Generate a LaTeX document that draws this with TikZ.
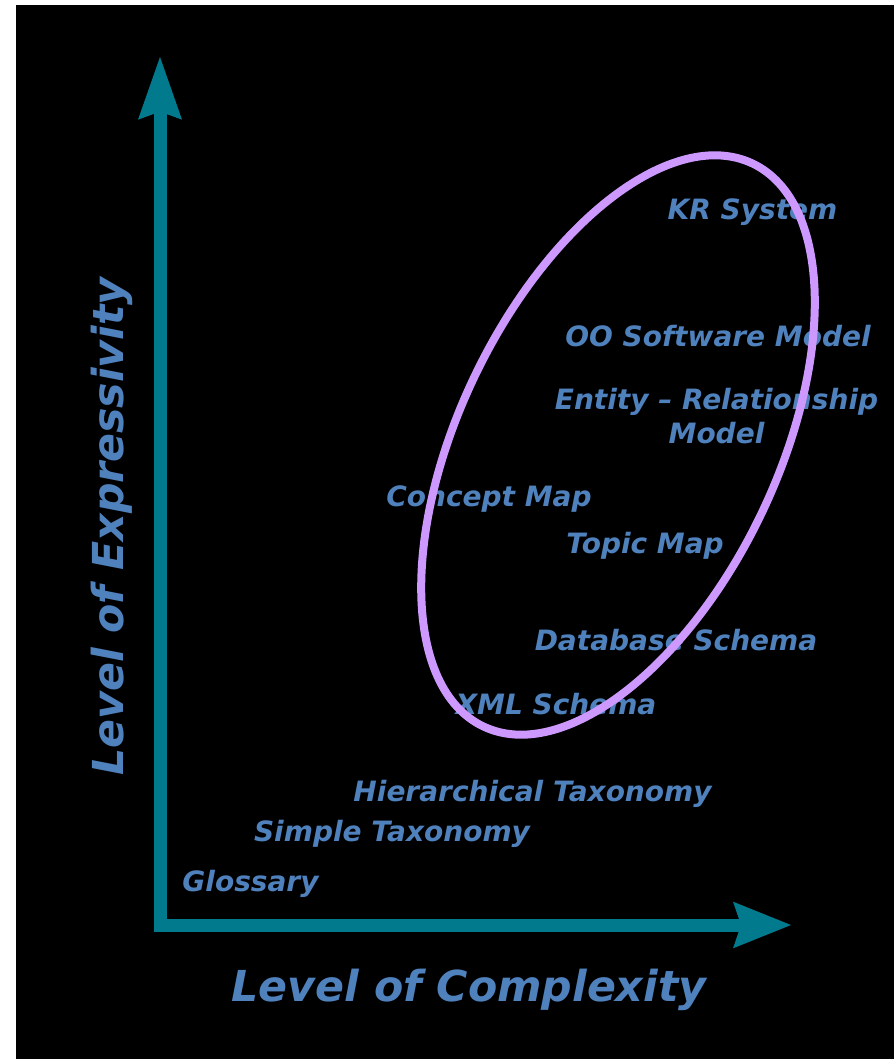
\documentclass[tikz,border=0pt]{standalone}
\usepackage{fontspec}
\setmainfont{DejaVu Sans}
\usetikzlibrary{arrows.meta}

\definecolor{axisteal}{RGB}{0,122,140}
\definecolor{labelblue}{RGB}{79,129,189}
\definecolor{ringviolet}{RGB}{206,153,255}

\tikzset{
  item/.style={anchor=base, inner sep=0pt, text=labelblue,
    font=\fontsize{21}{25}\selectfont\bfseries\itshape},
  axislabel/.style={anchor=base, inner sep=0pt, text=labelblue,
    font=\fontsize{32}{38}\selectfont\bfseries\itshape},
  axisline/.style={draw=axisteal, line width=9.75pt, miter limit=10},
  ring/.style={draw=ringviolet, line width=6pt},
}

\begin{document}
\begin{tikzpicture}[x=0.75pt, y=-0.75pt]
  % page and dark panel
  \fill[white] (0,0) rectangle (894,1059);
  \fill[black] (16,5) rectangle (894,1059);
  \useasboundingbox (0,0) rectangle (894,1059);

  % axes
  \coordinate (ytip)   at (160,57);
  \coordinate (origin) at (160,925);
  \coordinate (xtip)   at (791,925);
  \draw[axisline,
        {Stealth[length=47pt,width=33pt,inset=6pt,line width=0pt]}-{Stealth[length=43.5pt,width=35pt,inset=6pt,line width=0pt]}]
    (ytip) -- (origin) -- (xtip);

  % axis titles
  \node[axislabel] (xtitle) at (469,1001.7) {Level of Complexity};
  \node[axislabel, rotate=90] (ytitle) at (123.3,526.5) {Level of Expressivity};

  % models, from least to most expressive
  \node[item] (glossary) at (250.5,891.7) {Glossary};
  \node[item] (simple)   at (392,841.7)   {Simple Taxonomy};
  \node[item] (hier)     at (532.5,801.7) {Hierarchical Taxonomy};
  \node[item] (xml)      at (556,714.3)   {XML Schema};
  \node[item] (db)       at (676,650.7)   {Database Schema};
  \node[item] (topic)    at (645,553.3)   {Topic Map};
  \node[item] (concept)  at (489,506)     {Concept Map};
  % base anchor of a two-line node sits on its last line
  \node[item, align=center] (er) at (716.5,443.3) {Entity – Relationship\\Model};
  \node[item] (oo)       at (718,346.7)   {OO Software Model};
  \node[item] (kr)       at (752.5,219.3) {KR System};

  % grouping ring
  \draw[ring, rotate around={64.4:(618,445)}]
    (618,445) ellipse [x radius=312, y radius=159];
\end{tikzpicture}
\end{document}
